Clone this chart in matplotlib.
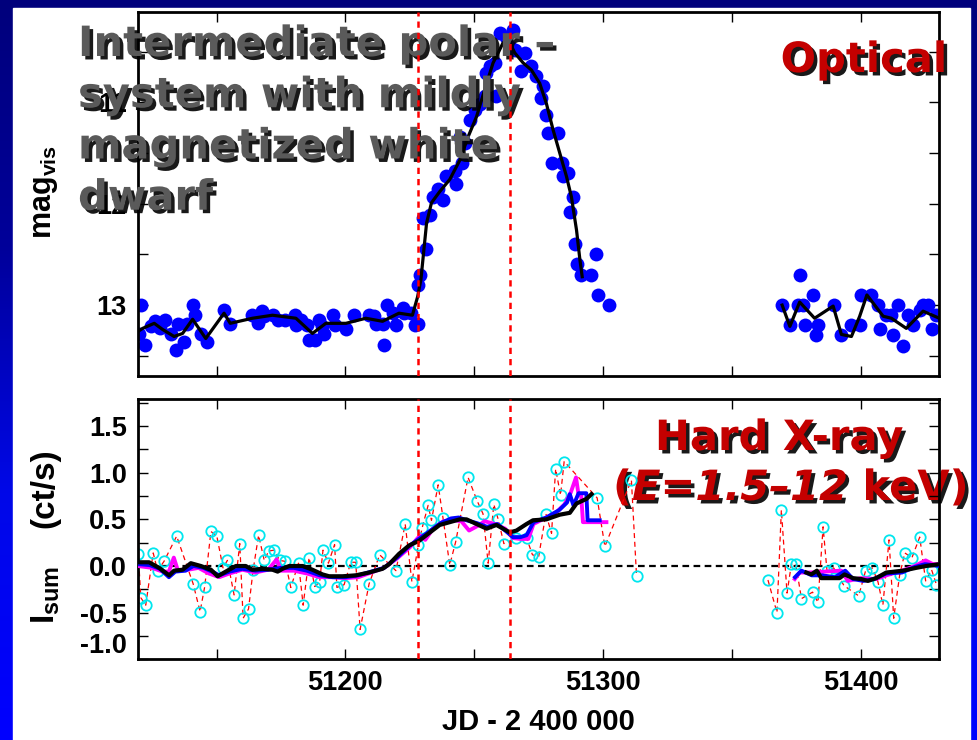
import numpy as np
import matplotlib.pyplot as plt
import matplotlib.patheffects as pe
from matplotlib.colors import LinearSegmentedColormap
from matplotlib.patches import Rectangle

plt.rcParams['font.family'] = ['Liberation Sans', 'DejaVu Sans']
plt.rcParams['font.weight'] = 'bold'
plt.rcParams['mathtext.fontset'] = 'custom'
plt.rcParams['mathtext.rm'] = 'Liberation Sans:bold'
plt.rcParams['mathtext.it'] = 'Liberation Sans:bold:italic'
plt.rcParams['mathtext.bf'] = 'Liberation Sans:bold'

# ---- optical light curve (visual magnitude) ----
opt_jd = [51120.0, 51120.6, 51122.3, 51124.5, 51126.0, 51128.0, 51129.9, 51132.2, 51134.2, 51135.2,
          51137.4, 51138.7, 51140.9, 51141.7, 51143.9, 51146.1, 51152.9, 51155.3, 51163.9, 51165.9,
          51167.8, 51168.5, 51171.9, 51173.9, 51176.5, 51180.4, 51181.0, 51182.7, 51184.9, 51185.9,
          51188.1, 51189.8, 51191.1, 51191.7, 51195.0, 51195.9, 51200.2, 51203.4, 51209.2, 51211.1,
          51211.8, 51214.4, 51215.0, 51216.3, 51218.3, 51219.8, 51222.2, 51222.8, 51225.4, 51226.9,
          51228.0,
          51228.2, 51228.9, 51230.2, 51231.2, 51232.8, 51234.0, 51236.0, 51237.9, 51239.2, 51242.5,
          51243.1, 51244.4, 51245.1, 51246.3, 51248.3, 51250.2, 51252.2, 51254.1, 51254.6, 51256.0,
          51258.0, 51258.6, 51259.9, 51262.5, 51263.8, 51265.1, 51265.7, 51268.3, 51269.6, 51272.2,
          51274.1, 51276.1, 51276.7, 51278.0, 51278.7, 51280.0, 51282.5, 51283.9, 51284.5, 51286.4,
          51287.1, 51288.4, 51289.0, 51289.7, 51291.6, 51295.5, 51297.4, 51298.1, 51302.3,
          51369.5, 51372.5, 51375.7, 51376.3, 51377.6, 51378.3, 51381.5, 51382.5, 51383.4, 51389.5,
          51392.5, 51396.4, 51399.6, 51400.3, 51404.1, 51406.7, 51407.4, 51410.0, 51411.9, 51412.5,
          51414.5, 51416.4, 51418.4, 51420.3, 51422.9, 51424.2, 51426.2, 51427.5, 51429.4]
opt_mag = [13.29, 13.00, 13.39, 13.21, 13.16, 13.23, 13.15, 13.29, 13.44, 13.19,
           13.36, 13.19, 13.00, 13.10, 13.29, 13.36, 13.05, 13.19, 13.10, 13.18,
           13.06, 13.11, 13.10, 13.15, 13.15, 13.10, 13.20, 13.15, 13.20, 13.34,
           13.34, 13.15, 13.21, 13.29, 13.10, 13.20, 13.24, 13.10, 13.10, 13.11,
           13.19, 13.19, 13.39, 13.00, 13.08, 13.20, 13.03, 13.08, 13.08, 13.20,
           13.19,
           12.80, 12.70, 12.14, 12.45, 12.11, 11.93, 11.85, 11.96, 11.73, 11.68,
           11.80, 11.34, 11.60, 11.40, 11.17, 11.07, 11.02, 10.94, 10.71, 10.64,
           10.61, 10.94, 10.31, 10.35, 10.45, 10.28, 10.48, 10.69, 10.51, 10.64,
           10.74, 10.96, 10.84, 11.12, 11.30, 11.60, 11.30, 11.60, 11.73, 11.70,
           12.08, 11.93, 12.40, 12.59, 12.70, 12.70, 12.50, 12.90, 13.00,
           13.00, 13.20, 13.00, 12.70, 13.00, 13.20, 12.90, 13.30, 13.20, 13.00,
           13.30, 13.20, 13.20, 12.90, 12.90, 13.00, 13.24, 13.10, 13.10, 13.30,
           13.00, 13.40, 13.10, 13.20, 13.05, 13.00, 13.00, 13.24, 13.10]

# smoothed optical curve, NaN splits the two observing seasons
fit_jd = [51119.5, 51121.3, 51125.8, 51129.0, 51133.5, 51136.8, 51140.7, 51145.8, 51152.9, 51155.3,
          51163.9, 51171.7, 51180.8, 51187.2, 51192.4, 51200.2, 51207.9, 51214.4, 51220.8, 51226.0,
          51228.0, 51229.3, 51230.2, 51231.5, 51233.4, 51236.6, 51240.5, 51244.4, 51247.6, 51250.9,
          51254.1, 51257.3, 51259.3, 51261.2, 51263.8, 51265.7, 51269.0, 51272.2, 51275.4, 51278.0,
          51280.6, 51283.2, 51285.8, 51287.7, 51289.7, 51291.0, 51291.9,
          np.nan,
          51369.5, 51372.5, 51376.3, 51382.1, 51389.3, 51392.5, 51396.4, 51399.6, 51402.4, 51405.4,
          51408.7, 51411.9, 51417.7, 51424.2, 51430.5]
fit_mag = [13.26, 13.23, 13.18, 13.24, 13.31, 13.28, 13.14, 13.33, 13.08, 13.18,
           13.13, 13.10, 13.13, 13.28, 13.18, 13.18, 13.13, 13.16, 13.08, 13.10,
           12.92, 12.75, 12.52, 12.19, 11.99, 11.88, 11.76, 11.57, 11.34, 11.14,
           10.87, 10.61, 10.51, 10.41, 10.41, 10.51, 10.61, 10.68, 10.81, 11.01,
           11.27, 11.50, 11.73, 11.93, 12.26, 12.55, 12.72,
           np.nan,
           13.00, 13.21, 12.97, 13.13, 13.01, 13.29, 13.31, 13.11, 12.90, 13.00,
           13.11, 13.13, 13.23, 13.06, 13.13]

# ---- summed hard X-ray count rate (ct/s) ----
xr_jd = [51119.6, 51120.6, 51122.5, 51125.4, 51127.1, 51129.6, 51134.5, 51140.9, 51143.6, 51145.4,
         51147.8, 51150.1, 51152.5, 51154.2, 51156.8, 51159.0, 51160.3, 51162.4, 51164.2, 51166.3,
         51168.5, 51170.2, 51172.3, 51174.5, 51176.6, 51178.8, 51181.8, 51183.6, 51185.9, 51188.1,
         51190.0, 51191.3, 51193.4, 51195.8, 51196.7, 51199.5, 51202.1, 51204.0, 51205.7, 51209.2,
         51213.3, 51219.6, 51223.2, 51225.8, 51228.3, 51229.8, 51232.1, 51233.4, 51236.0, 51237.9,
         51240.5, 51242.8, 51247.6, 51251.1, 51253.4, 51255.4, 51257.6, 51259.3, 51261.5, 51266.4,
         51270.3, 51272.6, 51275.0, 51277.8, 51280.0, 51281.6, 51283.5, 51284.9, 51297.7, 51300.7,
         51311.0, 51313.0,
         np.nan,
         51364.0, 51367.5, 51369.2, 51371.4, 51373.1, 51374.8, 51377.0, 51381.3, 51383.4, 51385.4,
         51386.9, 51389.5, 51393.5, 51399.2, 51401.9, 51404.5, 51406.7, 51408.6, 51411.0, 51412.8,
         51415.1, 51417.1, 51419.9, 51422.9, 51425.2, 51427.5, 51429.4]
xr_rate = [0.13, -0.34, -0.42, 0.14, -0.05, 0.05, 0.32, -0.19, -0.49, -0.22,
           0.37, 0.32, -0.02, 0.06, -0.31, 0.24, -0.56, -0.46, -0.04, 0.33,
           0.06, 0.16, 0.17, 0.06, 0.05, -0.23, 0.03, -0.42, 0.09, -0.22,
           -0.17, 0.17, 0.03, 0.23, -0.23, -0.20, 0.04, 0.04, -0.68, -0.19,
           0.12, -0.05, 0.45, -0.17, 0.22, 0.41, 0.65, 0.49, 0.87, 0.51,
           0.01, 0.26, 0.95, 0.70, 0.56, 0.03, 0.66, 0.50, 0.24, 0.30,
           0.30, 0.12, 0.10, 0.56, 0.35, 1.04, 0.76, 1.12, 0.73, 0.21,
           0.92, -0.11,
           np.nan,
           -0.15, -0.50, 0.60, -0.29, 0.02, 0.02, -0.35, -0.28, -0.39, 0.42,
           -0.05, -0.02, -0.21, -0.32, -0.05, -0.02, -0.17, -0.42, 0.28, -0.56,
           -0.10, 0.14, 0.09, 0.31, -0.16, -0.04, -0.20]

# running means of the count rate
mean_magenta_jd = [51119.5, 51125, 51129, 51131.5, 51133.4, 51135, 51139, 51143, 51147, 51151,
                   51155, 51160, 51165, 51170, 51173.3, 51175, 51180, 51185, 51190, 51195,
                   51200, 51205, 51210, 51215, 51220, 51225, 51229, 51231, 51234, 51238,
                   51242, 51245, 51248, 51252, 51254, 51258, 51262, 51265, 51268, 51271,
                   51273, 51278, 51282, 51285, 51287.5, 51289.5, 51290.5, 51291.5, 51292.2, 51301.3,
                   np.nan,
                   51374.4, 51376.3, 51380, 51386, 51392.5, 51395, 51400, 51406, 51410, 51416,
                   51421, 51425.2, 51428, 51430.5]
mean_magenta = [0.00, -0.02, -0.06, -0.06, 0.09, -0.05, -0.04, -0.02, -0.08, -0.12,
                -0.08, -0.04, -0.07, -0.04, 0.07, -0.05, -0.05, -0.08, -0.12, -0.12,
                -0.13, -0.12, -0.07, -0.02, 0.08, 0.20, 0.33, 0.28, 0.40, 0.48,
                0.49, 0.48, 0.38, 0.44, 0.48, 0.45, 0.40, 0.30, 0.29, 0.29,
                0.45, 0.52, 0.58, 0.66, 0.79, 0.95, 0.76, 0.76, 0.47, 0.47,
                np.nan,
                -0.14, -0.07, -0.07, -0.06, -0.05, -0.16, -0.13, -0.14, -0.10, -0.05,
                0.00, 0.06, 0.02, 0.02]

mean_blue_jd = [51119.5, 51124, 51128, 51131.5, 51134, 51138, 51141, 51145, 51149, 51151,
                51155, 51160, 51165, 51170, 51175, 51180, 51185, 51190, 51195, 51200,
                51205, 51210, 51215, 51220, 51225, 51229, 51233, 51237, 51241, 51244,
                51247, 51251, 51255, 51259, 51262, 51265, 51268, 51270.3, 51273, 51278,
                51283, 51286, 51287.1, 51288.5, 51290.5, 51293.5, 51294, 51298.7,
                np.nan,
                51374.5, 51377, 51381, 51385, 51390, 51394, 51397, 51401, 51405, 51410,
                51416, 51421, 51425, 51430.5]
mean_blue = [0.02, 0.01, -0.03, -0.12, -0.06, -0.05, 0.00, -0.02, -0.07, -0.10,
             -0.06, -0.03, -0.05, -0.04, -0.02, -0.02, -0.05, -0.10, -0.12, -0.12,
             -0.10, -0.06, -0.02, 0.09, 0.22, 0.30, 0.38, 0.46, 0.51, 0.52,
             0.49, 0.46, 0.42, 0.45, 0.38, 0.31, 0.31, 0.33, 0.47, 0.52,
             0.60, 0.68, 0.77, 0.65, 0.78, 0.78, 0.49, 0.49,
             np.nan,
             -0.12, -0.05, -0.10, -0.10, -0.12, -0.05, -0.14, -0.16, -0.14, -0.08,
             -0.07, -0.01, 0.02, 0.00]

mean_black_jd = [51119.5, 51123.8, 51127.7, 51131.6, 51133.5, 51136.8, 51140.0, 51143.9, 51147.8, 51150.4,
                 51154.2, 51157.5, 51161.3, 51163.9, 51167.8, 51171.7, 51173.7, 51175.6, 51178.2, 51183.4,
                 51187.2, 51191.1, 51193.7, 51198.9, 51204.0, 51209.2, 51214.4, 51217.0, 51220.8, 51224.7,
                 51228.6, 51232.8, 51236.6, 51240.5, 51244.4, 51247.0, 51250.9, 51254.8, 51258.6, 51261.2,
                 51263.8, 51266.4, 51270.3, 51272.8, 51278.0, 51283.2, 51287.1, 51289.7, 51293.6, 51295.5,
                 np.nan,
                 51378.9, 51380.8, 51383.0, 51384.7, 51391.8, 51393.7, 51397.0, 51400.2, 51402.8, 51406.0,
                 51409.9, 51416.4, 51421.5, 51425.4, 51430.5]
mean_black = [0.04, 0.04, -0.02, -0.10, -0.05, -0.04, 0.03, 0.00, -0.04, -0.11,
              -0.05, 0.00, 0.00, -0.04, -0.03, -0.04, -0.06, -0.03, 0.00, 0.00,
              -0.04, -0.09, -0.11, -0.11, -0.10, -0.07, -0.03, 0.02, 0.13, 0.22,
              0.27, 0.36, 0.44, 0.47, 0.50, 0.50, 0.45, 0.40, 0.44, 0.40,
              0.36, 0.38, 0.45, 0.49, 0.50, 0.55, 0.57, 0.67, 0.72, 0.77,
              np.nan,
              -0.07, -0.09, -0.05, -0.13, -0.13, -0.09, -0.13, -0.14, -0.16, -0.13,
              -0.07, -0.05, -0.02, 0.00, 0.02]

outburst_jd = [51228, 51264]

W, H = 978, 740
fig = plt.figure(figsize=(W / 100, H / 100), dpi=100)

# blue slide frame with a white field
bg = fig.add_axes([0, 0, 1, 1], zorder=-10)
grad = np.linspace(0, 1, 256).reshape(-1, 1)
frame_cmap = LinearSegmentedColormap.from_list('frame', ['#0000ff', '#0008e8', '#00009a', '#00007c'])
bg.imshow(grad, extent=[0, 1, 0, 1], origin='lower', aspect='auto', cmap=frame_cmap)
bg.add_patch(Rectangle((13 / W, 0), (970 - 13) / W, (H - 8) / H, color='white'))
bg.set_xlim(0, 1)
bg.set_ylim(0, 1)
bg.axis('off')

left, right = 138, 939.3
ax1 = fig.add_axes([left / W, 1 - 376 / H, (right - left) / W, (376 - 12.3) / H])
ax2 = fig.add_axes([left / W, 1 - 659.3 / H, (right - left) / W, (659.3 - 399) / H])

tick_font = dict(fontsize=19.5, fontweight='bold')
for ax in (ax1, ax2):
    ax.set_xlim(51119.5, 51430.5)
    ax.set_xticks([51200, 51300, 51400])
    ax.set_xticks([51150, 51250, 51350], minor=True)
    ax.tick_params(which='both', direction='in', top=True, right=True, length=7, width=1.0,
                   labelsize=19.5, pad=8)
    for s in ax.spines.values():
        s.set_linewidth(2)
    for x in outburst_jd:
        ax.axvline(x, color='red', lw=1.8, ls=(0, (2.5, 2)), zorder=5)

# ---- optical panel ----
ax1.plot(opt_jd, opt_mag, 'o', color='#0000ff', ms=10, mec='none', zorder=2)
ax1.plot(fit_jd, fit_mag, color='black', lw=2.3, zorder=3)
ax1.set_ylim(13.70, 10.11)
ax1.set_yticks([11, 12, 13])
ax1.set_yticklabels(['11', '12', '13'], **tick_font)
ax1.set_yticks([10.5, 11.5, 12.5, 13.5], minor=True)
ax1.tick_params(axis='x', labelbottom=False)

shadow = [pe.withSimplePatchShadow(offset=(2.5, -2.5), shadow_rgbFace='black', alpha=0.9)]
ax1.text(78 / W, 1 - 23 / H, 'Intermediate polar –\nsystem with mildly\nmagnetized white\ndwarf',
         transform=fig.transFigure, ha='left', va='top', family='DejaVu Sans', fontsize=30,
         fontweight='bold', color='#5a5a5a', linespacing=1.28, path_effects=shadow,
         zorder=4, clip_on=False)
ax1.text(947 / W, 1 - 72 / H, 'Optical', transform=fig.transFigure, ha='right', va='baseline',
         family='DejaVu Sans', fontsize=30, fontweight='bold', color='#c40000',
         path_effects=shadow, zorder=4, clip_on=False)

# ---- hard X-ray panel ----
ax2.axhline(0, color='black', lw=1.6, ls=(0, (3, 2)), zorder=1.8)
ax2.plot(xr_jd, xr_rate, color='red', lw=0.9, ls=(0, (4, 3)), zorder=2)
ax2.plot(xr_jd, xr_rate, 'o', mfc='none', mec='#00e6ee', ms=7.5, mew=1.3, zorder=2.2)
ax2.plot(mean_magenta_jd, mean_magenta, color='magenta', lw=2.8, zorder=3)
ax2.plot(mean_blue_jd, mean_blue, color='#0000ff', lw=2.8, zorder=3.1)
ax2.plot(mean_black_jd, mean_black, color='black', lw=3.0, zorder=3.2)
ax2.set_ylim(-1.0, 1.79)
ax2.set_yticks([1.5, 1.0, 0.5, 0.0, -0.5, -1.0])
ylabels = ax2.set_yticklabels(['1.5', '1.0', '0.5', '0.0', '-0.5', '-1.0'], **tick_font)
ylabels[-1].set_verticalalignment('bottom')
ax2.set_yticks([1.75, 1.25, 0.75, 0.25, -0.25, -0.75], minor=True)
ax2.set_xticklabels(['51200', '51300', '51400'], **tick_font)

red_kw = dict(family='DejaVu Sans', fontsize=30, fontweight='bold', color='#c40000',
              path_effects=shadow, zorder=1.5, clip_on=False)
ax2.text(655 / W, 1 - 450 / H, 'Hard X-ray', transform=fig.transFigure, ha='left',
         va='baseline', **red_kw)
t1 = ax2.text(613 / W, 1 - 500 / H, '(', transform=fig.transFigure, ha='left',
              va='baseline', **red_kw)
t2 = ax2.annotate('E=1.5–12', xy=(1, 0), xycoords=t1, ha='left', va='bottom',
                  style='italic', **red_kw)
ax2.annotate(' keV)', xy=(1, 0), xycoords=t2, ha='left', va='bottom', **red_kw)

# axis titles
fig.text(45 / W, 1 - 192 / H, r'mag$_{\mathrm{vis}}$', rotation=90, ha='center', va='center',
         fontsize=22, fontweight='bold')
fig.text(46 / W, 1 - 595 / H, r'I$_{\mathrm{sum}}$', rotation=90, ha='center', va='center',
         fontsize=24, fontweight='bold')
fig.text(45 / W, 1 - 488 / H, '(ct/s)', rotation=90, ha='center', va='center',
         fontsize=24, fontweight='bold')
fig.text((left + right) / 2 / W, 1 - 722 / H, 'JD - 2 400 000', ha='center', va='center',
         fontsize=21, fontweight='bold')

fig.savefig('out.png', dpi=100)
